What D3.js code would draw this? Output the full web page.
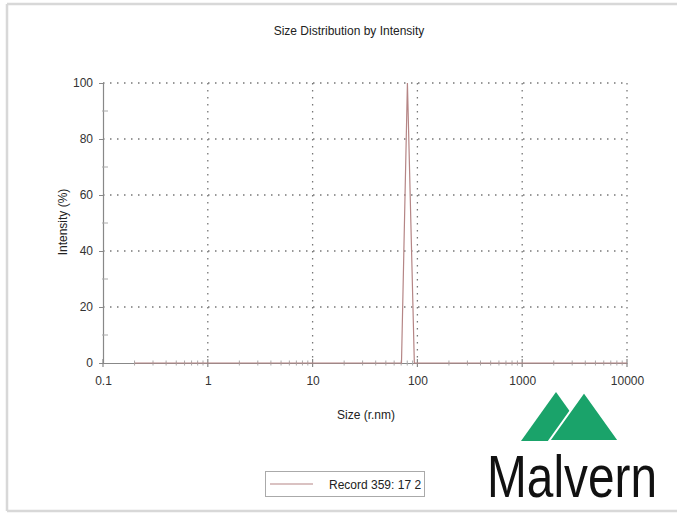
<!DOCTYPE html>
<html><head><meta charset="utf-8">
<script src="https://cdn.jsdelivr.net/npm/d3@7"></script>
<style>html,body{margin:0;padding:0;background:#fff;}svg{display:block;}</style>
</head><body>
<svg id="chart" width="677" height="514"></svg>
<script>
// Data
const sizes      = [0.2, 1, 10, 50, 70.5, 80.3, 93.5, 200, 1000, 10000];
const intensity  = [0,   0, 0,  0,  0,    100,  0,    0,   0,    0];
const xTickValues = [0.1, 1, 10, 100, 1000, 10000];
const xTickLabels = ["0.1", "1", "10", "100", "1000", "10000"];
const yTickValues = [0, 20, 40, 60, 80, 100];
const seriesName = "Record 359: 17 2";

const svg = d3.select("#chart");
const font = "'Liberation Sans Narrow','Liberation Sans',Arial,sans-serif";

// frame
svg.append("line").attr("x1",7).attr("x2",677).attr("y1",4).attr("y2",4).attr("stroke","#d8d8d8").attr("stroke-width",2.5);
svg.append("line").attr("x1",7).attr("x2",7).attr("y1",4).attr("y2",511).attr("stroke","#d8d8d8").attr("stroke-width",2.5);
svg.append("line").attr("x1",7).attr("x2",677).attr("y1",511).attr("y2",511).attr("stroke","#d8d8d8").attr("stroke-width",2.5);

const x = d3.scaleLog().domain([0.1, 10000]).range([103, 627]);
const y = d3.scaleLinear().domain([0, 100]).range([363, 83]);

// grid
const grid = svg.append("g").attr("stroke","#777").attr("stroke-width",1.3).attr("stroke-dasharray","1.5,5.5");
grid.selectAll("line.v").data(xTickValues.slice(1)).join("line")
  .attr("x1",d=>x(d)).attr("x2",d=>x(d)).attr("y1",y(100)).attr("y2",y(0));
grid.selectAll("line.h").data(yTickValues.slice(1)).join("line")
  .attr("x1",x(0.1)).attr("x2",x(10000)).attr("y1",d=>y(d)).attr("y2",d=>y(d));

// axes
const xAxis = d3.axisBottom(x).tickValues(xTickValues).tickFormat((d,i)=>xTickLabels[i]).tickSize(0).tickPadding(13);
const gx = svg.append("g").attr("transform",`translate(0,${y(0)})`).call(xAxis);
gx.select(".domain").attr("stroke","#888").attr("stroke-width",1.2);
gx.selectAll("text").attr("font-family",font).attr("font-size",12).attr("fill","#333");

// x minor ticks
const minors = [];
for (let e=-1;e<4;e++) for (let m=2;m<=9;m++) minors.push(m*Math.pow(10,e));
svg.append("g").selectAll("line").data(minors).join("line")
  .attr("x1",d=>x(d)).attr("x2",d=>x(d)).attr("y1",y(0)-2.5).attr("y2",y(0)+2.5)
  .attr("stroke","#aaa").attr("stroke-width",1);
svg.append("g").selectAll("line").data(xTickValues).join("line")
  .attr("x1",d=>x(d)).attr("x2",d=>x(d)).attr("y1",y(0)-4).attr("y2",y(0)+4)
  .attr("stroke","#888").attr("stroke-width",1.2);

const yAxis = d3.axisLeft(y).tickValues(yTickValues).tickSize(4).tickPadding(6);
const gy = svg.append("g").attr("transform",`translate(${x(0.1)},0)`).call(yAxis);
gy.select(".domain").attr("stroke","#888").attr("stroke-width",1.2);
gy.selectAll(".tick line").attr("stroke","#888");
gy.selectAll("text").attr("font-family",font).attr("font-size",12).attr("fill","#333");
svg.append("g").selectAll("line").data([10,30,50,70,90]).join("line")
  .attr("x1",x(0.1)-1).attr("x2",x(0.1)+5).attr("y1",d=>y(d)).attr("y2",d=>y(d))
  .attr("stroke","#aaa").attr("stroke-width",1);

// series
const line = d3.line().x((d,i)=>x(sizes[i])).y(d=>y(d));
svg.append("path").datum(intensity).attr("d",line)
  .attr("fill","none").attr("stroke","#b58585").attr("stroke-width",1.2);

// title and labels
svg.append("text").attr("x",349).attr("y",35).attr("text-anchor","middle")
  .attr("font-family",font).attr("font-size",12).attr("fill","#222").text("Size Distribution by Intensity");
svg.append("text").attr("x",366).attr("y",419).attr("text-anchor","middle")
  .attr("font-family",font).attr("font-size",12).attr("fill","#222").text("Size (r.nm)");
svg.append("text").attr("transform","translate(67,222) rotate(-90)").attr("text-anchor","middle")
  .attr("font-family",font).attr("font-size",12).attr("fill","#222").text("Intensity (%)");

// legend
svg.append("rect").attr("x",265.5).attr("y",471.5).attr("width",159).attr("height",25)
  .attr("fill","#fff").attr("stroke","#aaa").attr("stroke-width",1);
svg.append("line").attr("x1",270).attr("x2",313).attr("y1",484).attr("y2",484)
  .attr("stroke","#b58585").attr("stroke-width",1.2);
svg.append("text").attr("x",329).attr("y",489).attr("font-family",font).attr("font-size",12)
  .attr("fill","#222").text(seriesName);

// logo
const logo = svg.append("g");
logo.append("path").attr("d","M521,441 L556,392 L591,441 Z").attr("fill","#1aa36a");
logo.append("path").attr("d","M549,441 L584,392 L619,441 Z").attr("fill","#1aa36a")
  .attr("stroke","#fff").attr("stroke-width",2);
const logoText = logo.append("text").attr("x",0).attr("y",0)
  .attr("font-family","'Liberation Sans',Arial,sans-serif").attr("font-size",60)
  .attr("fill","#111").text("Malvern");
const w = logoText.node().getComputedTextLength();
logoText.attr("transform",`translate(487,497) scale(${170/w},1)`);
</script>
</body></html>
